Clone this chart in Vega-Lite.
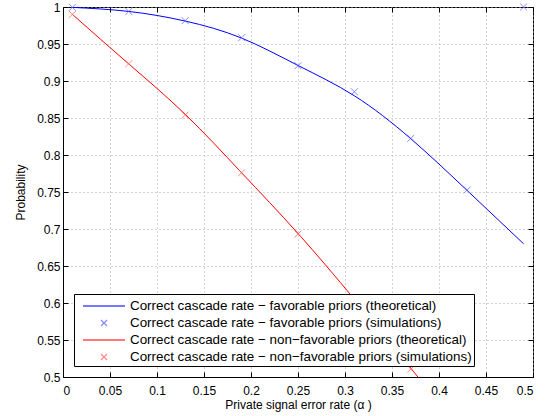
{
  "$schema": "https://vega.github.io/schema/vega-lite/v6.json",
  "width": 470,
  "height": 370,
  "autosize": {"type": "none"},
  "padding": {"left": 63, "top": 7, "right": 18, "bottom": 39},
  "background": "white",
  "config": {
    "view": {"stroke": "black", "strokeWidth": 1},
    "font": "Liberation Sans",
    "axis": {
      "labelFont": "Liberation Sans",
      "titleFont": "Liberation Sans",
      "labelFontSize": 12,
      "titleFontSize": 12,
      "titleFontWeight": "normal",
      "labelColor": "black",
      "titleColor": "black",
      "domainColor": "black",
      "tickColor": "black",
      "tickSize": -5,
      "gridColor": "#aaaaaa",
      "gridDash": [1, 3],
      "gridWidth": 1
    },
    "legend": {
      "labelFont": "Liberation Sans",
      "labelFontSize": 13.4,
      "labelColor": "black",
      "title": null,
      "orient": "none",
      "legendX": 11,
      "legendY": 287,
      "fillColor": "white",
      "strokeColor": "black",
      "padding": 2,
      "symbolSize": 324,
      "symbolStrokeWidth": 1.3,
      "symbolOffset": 18,
      "labelOffset": 16,
      "rowPadding": 0,
      "labelLimit": 420
    }
  },
  "data": {
    "values": [
      {"kind": "theory", "series": "Correct cascade rate − favorable priors (theoretical)", "x": 0.01, "y": 0.9995},
      {"kind": "theory", "series": "Correct cascade rate − favorable priors (theoretical)", "x": 0.07, "y": 0.994},
      {"kind": "theory", "series": "Correct cascade rate − favorable priors (theoretical)", "x": 0.13, "y": 0.981},
      {"kind": "theory", "series": "Correct cascade rate − favorable priors (theoretical)", "x": 0.19, "y": 0.958},
      {"kind": "theory", "series": "Correct cascade rate − favorable priors (theoretical)", "x": 0.25, "y": 0.921},
      {"kind": "theory", "series": "Correct cascade rate − favorable priors (theoretical)", "x": 0.31, "y": 0.880},
      {"kind": "theory", "series": "Correct cascade rate − favorable priors (theoretical)", "x": 0.37, "y": 0.822},
      {"kind": "theory", "series": "Correct cascade rate − favorable priors (theoretical)", "x": 0.43, "y": 0.752},
      {"kind": "theory", "series": "Correct cascade rate − favorable priors (theoretical)", "x": 0.49, "y": 0.680},
      {"kind": "sim", "series": "Correct cascade rate − favorable priors (simulations)", "x": 0.01, "y": 0.9995},
      {"kind": "sim", "series": "Correct cascade rate − favorable priors (simulations)", "x": 0.07, "y": 0.994},
      {"kind": "sim", "series": "Correct cascade rate − favorable priors (simulations)", "x": 0.13, "y": 0.9815},
      {"kind": "sim", "series": "Correct cascade rate − favorable priors (simulations)", "x": 0.19, "y": 0.9585},
      {"kind": "sim", "series": "Correct cascade rate − favorable priors (simulations)", "x": 0.25, "y": 0.9207},
      {"kind": "sim", "series": "Correct cascade rate − favorable priors (simulations)", "x": 0.31, "y": 0.8855},
      {"kind": "sim", "series": "Correct cascade rate − favorable priors (simulations)", "x": 0.37, "y": 0.8224},
      {"kind": "sim", "series": "Correct cascade rate − favorable priors (simulations)", "x": 0.43, "y": 0.7527},
      {"kind": "sim", "series": "Correct cascade rate − favorable priors (simulations)", "x": 0.49, "y": 1.0},
      {"kind": "theory", "series": "Correct cascade rate − non−favorable priors (theoretical)", "x": 0.01, "y": 0.990},
      {"kind": "theory", "series": "Correct cascade rate − non−favorable priors (theoretical)", "x": 0.07, "y": 0.923},
      {"kind": "theory", "series": "Correct cascade rate − non−favorable priors (theoretical)", "x": 0.13, "y": 0.855},
      {"kind": "theory", "series": "Correct cascade rate − non−favorable priors (theoretical)", "x": 0.19, "y": 0.776},
      {"kind": "theory", "series": "Correct cascade rate − non−favorable priors (theoretical)", "x": 0.25, "y": 0.694},
      {"kind": "theory", "series": "Correct cascade rate − non−favorable priors (theoretical)", "x": 0.31, "y": 0.605},
      {"kind": "theory", "series": "Correct cascade rate − non−favorable priors (theoretical)", "x": 0.37, "y": 0.512},
      {"kind": "theory", "series": "Correct cascade rate − non−favorable priors (theoretical)", "x": 0.43, "y": 0.415},
      {"kind": "theory", "series": "Correct cascade rate − non−favorable priors (theoretical)", "x": 0.49, "y": 0.315},
      {"kind": "sim", "series": "Correct cascade rate − non−favorable priors (simulations)", "x": 0.01, "y": 0.990},
      {"kind": "sim", "series": "Correct cascade rate − non−favorable priors (simulations)", "x": 0.07, "y": 0.9234},
      {"kind": "sim", "series": "Correct cascade rate − non−favorable priors (simulations)", "x": 0.13, "y": 0.854},
      {"kind": "sim", "series": "Correct cascade rate − non−favorable priors (simulations)", "x": 0.19, "y": 0.776},
      {"kind": "sim", "series": "Correct cascade rate − non−favorable priors (simulations)", "x": 0.25, "y": 0.6932},
      {"kind": "sim", "series": "Correct cascade rate − non−favorable priors (simulations)", "x": 0.31, "y": 0.603},
      {"kind": "sim", "series": "Correct cascade rate − non−favorable priors (simulations)", "x": 0.37, "y": 0.5107}
    ]
  },
  "resolve": {"axis": {"x": "independent", "y": "independent"}},
  "layer": [
    {
      "transform": [{"filter": "datum.kind === 'theory'"}],
      "mark": {"type": "line", "strokeWidth": 1, "clip": true, "interpolate": "natural"},
      "encoding": {
        "x": {"field": "x", "type": "quantitative",
          "scale": {"domain": [0, 0.5], "nice": false, "zero": false},
          "axis": {"orient": "bottom", "values": [0, 0.05, 0.1, 0.15, 0.2, 0.25, 0.3, 0.35, 0.4, 0.45, 0.5], "format": ".2~f", "grid": true, "title": "Private signal error rate (α )", "labelPadding": 13, "titlePadding": 3}},
        "y": {"field": "y", "type": "quantitative",
          "scale": {"domain": [0.5, 1], "nice": false, "zero": false},
          "axis": {"orient": "left", "values": [0.5, 0.55, 0.6, 0.65, 0.7, 0.75, 0.8, 0.85, 0.9, 0.95, 1], "format": ".2~f", "grid": true, "title": "Probability", "labelPadding": 8, "titlePadding": 9}},
        "color": {"field": "series", "type": "nominal",
          "scale": {"domain": ["Correct cascade rate − favorable priors (theoretical)", "Correct cascade rate − favorable priors (simulations)", "Correct cascade rate − non−favorable priors (theoretical)", "Correct cascade rate − non−favorable priors (simulations)"],
            "range": ["#0000ff", "#5a5aff", "#ff0000", "#ff5a5a"]}}
      }
    },
    {
      "transform": [{"filter": "datum.kind === 'sim'"}],
      "mark": {"type": "point", "filled": false, "size": 441, "strokeWidth": 1, "clip": false},
      "encoding": {
        "x": {"field": "x", "type": "quantitative",
          "axis": {"orient": "top", "values": [0, 0.05, 0.1, 0.15, 0.2, 0.25, 0.3, 0.35, 0.4, 0.45, 0.5], "labels": false, "grid": false, "title": null, "domain": false}},
        "y": {"field": "y", "type": "quantitative",
          "axis": {"orient": "right", "values": [0.5, 0.55, 0.6, 0.65, 0.7, 0.75, 0.8, 0.85, 0.9, 0.95, 1], "labels": false, "grid": false, "title": null, "domain": false}},
        "color": {"field": "series", "type": "nominal"},
        "shape": {"field": "series", "type": "nominal",
          "scale": {"domain": ["Correct cascade rate − favorable priors (theoretical)", "Correct cascade rate − favorable priors (simulations)", "Correct cascade rate − non−favorable priors (theoretical)", "Correct cascade rate − non−favorable priors (simulations)"],
            "range": ["M-2.333,0L2.333,0", "M-0.333,-0.333L0.333,0.333M-0.333,0.333L0.333,-0.333", "M-2.333,0L2.333,0", "M-0.333,-0.333L0.333,0.333M-0.333,0.333L0.333,-0.333"]}}
      }
    }
  ]
}
